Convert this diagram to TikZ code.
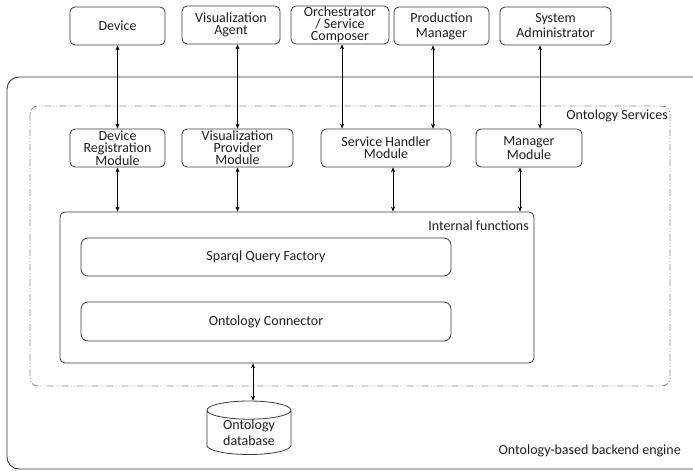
\documentclass[tikz,border=0pt]{standalone}
\usepackage{fontspec}
\setmainfont{Carlito}
\usetikzlibrary{shapes.geometric,arrows.meta}
\definecolor{edgegray}{HTML}{3A3A3A}
\definecolor{dashgray}{HTML}{8A8A8A}
\definecolor{inkcol}{HTML}{1E1E1E}
\begin{document}
\begin{tikzpicture}[x=1pt,y=-1pt,
  txt/.style={font=\fontsize{14}{12}\selectfont, text=inkcol},
  wide/.style={font=\fontsize{14}{15}\selectfont},
  box/.style={txt, draw=edgegray, line width=0.8pt, rounded corners=5pt,
    align=center, inner sep=0pt},
  link/.style={{Stealth[length=5pt,width=4pt]}-{Stealth[length=5pt,width=4pt]},
    line width=0.6pt, draw=black},
  lbl/.style={txt, anchor=east, inner sep=0pt}]
\useasboundingbox (0,0) rectangle (693,471);

% backend engine frame (runs past the right edge)
\draw[edgegray, line width=0.9pt, rounded corners=12pt] (7,77) rectangle (720,469);
\node[lbl] (enginelbl) at (681,451) {Ontology-based backend engine};

% ontology services frame
\draw[dashgray, line width=0.8pt, rounded corners=8pt,
  dash pattern=on 7pt off 2pt on 1pt off 2pt on 1pt off 2pt] (30,106) rectangle (670,386);
\node[lbl] (srvlbl) at (668,116) {Ontology Services};

% external actors
\node[box, minimum width=95pt, minimum height=38pt] (dev) at (117.5,26) {Device};
\node[box, minimum width=98pt, minimum height=38pt] (va) at (231,25) {Visualization\\Agent};
\node[box, minimum width=98pt, minimum height=38pt] (orc) at (340,25) {Orchestrator\\/ Service\\Composer};
\node[box, wide, minimum width=95pt, minimum height=38pt] (pm) at (441.5,26) {Production\\Manager};
\node[box, wide, minimum width=111pt, minimum height=38pt] (sa) at (555.5,26) {System\\Administrator};

% service modules
\node[box, minimum width=95pt, minimum height=38pt] (drm) at (117.5,148) {Device\\Registration\\Module};
\node[box, minimum width=111pt, minimum height=38pt] (vpm) at (237.5,148) {Visualization\\Provider\\Module};
\node[box, minimum width=130pt, minimum height=38pt] (shm) at (386,148) {Service Handler\\Module};
\node[box, minimum width=106pt, minimum height=38pt] (mm) at (529,148) {Manager\\Module};

% internal functions
\node[box, minimum width=474pt, minimum height=151pt] (intf) at (297,287.5) {};
\node[lbl] (intflbl) at (529,226) {Internal functions};
\node[box, minimum width=370pt, minimum height=38pt, rounded corners=7pt] (sqf) at (266,257) {Sparql Query Factory};
\node[box, minimum width=370pt, minimum height=39pt, rounded corners=7pt] (oc) at (266,321.5) {Ontology Connector};

% ontology database
\node[txt, font=\fontsize{14}{16}\selectfont, draw=edgegray, line width=0.8pt, cylinder,
  shape border rotate=90, aspect=0.35, minimum width=84pt, minimum height=50pt,
  inner sep=0pt, align=center] (db) at (249,432.5) {Ontology\\database};

% actor <-> module links
\draw[link] (dev.south) -- (drm.north);
\draw[link] (va.south -| vpm.north) -- (vpm.north);
\draw[link] ([xshift=2pt]orc.south) -- ([xshift=2pt]orc.south |- shm.north);
\draw[link] ([xshift=-8.5pt]pm.south) -- ([xshift=-8.5pt]pm.south |- shm.north);
\draw[link] ([xshift=-15.5pt]sa.south) -- ([xshift=-15.5pt]sa.south |- mm.north);

% module <-> internal functions links
\draw[link] (drm.south) -- (drm.south |- intf.north);
\draw[link] (vpm.south) -- (vpm.south |- intf.north);
\draw[link] ([xshift=7pt]shm.south) -- ([xshift=7pt]shm.south |- intf.north);
\draw[link] ([xshift=-9pt]mm.south) -- ([xshift=-9pt]mm.south |- intf.north);

% internal functions <-> database
\draw[link] (intf.south -| 253,0) -- (db.top -| 253,0);
\end{tikzpicture}
\end{document}
